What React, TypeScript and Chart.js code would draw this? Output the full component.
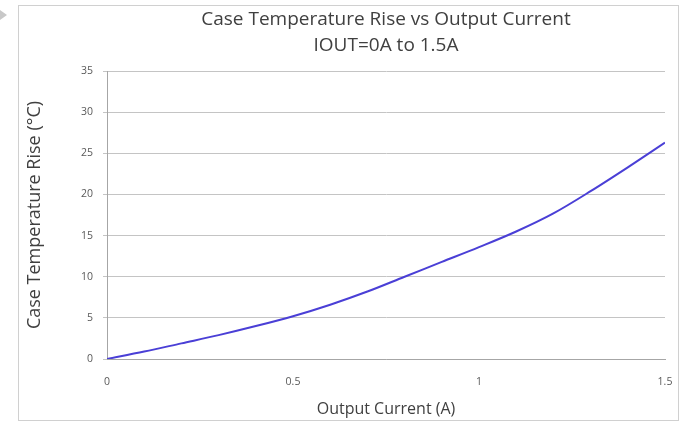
import React, { useEffect, useRef } from "react";
import { Chart, registerables } from "chart.js";

Chart.register(...registerables);

const currentA: number[] = [0, 0.1, 0.2, 0.3, 0.4, 0.5, 0.6, 0.7, 0.8, 0.9, 1.0, 1.1, 1.2, 1.3, 1.4, 1.5];
const tempRise: number[] = [0, 0.9, 1.9, 2.9, 4.0, 5.2, 6.6, 8.2, 10.0, 11.8, 13.6, 15.5, 17.7, 20.4, 23.3, 26.3];
const titleLines: string[] = ["Case Temperature Rise vs Output Current", "IOUT=0A to 1.5A"];
const xTitle = "Output Current (A)";
const yTitle = "Case Temperature Rise (°C)";

const FONT = "'Open Sans', 'Noto Sans', sans-serif";

export default function App() {
  const ref = useRef<HTMLCanvasElement | null>(null);
  useEffect(() => {
    if (!ref.current) return;
    const chart = new Chart(ref.current, {
      type: "line",
      data: {
        datasets: [
          {
            data: currentA.map((x, i) => ({ x, y: tempRise[i] })),
            borderColor: "#4a3fd6",
            borderWidth: 2,
            pointRadius: 0,
            cubicInterpolationMode: "monotone",
            fill: false,
          },
        ],
      },
      options: {
        animation: false,
        responsive: true,
        maintainAspectRatio: false,
        layout: { padding: { top: 5, left: 18, right: 21, bottom: 4 } },
        plugins: {
          legend: { display: false },
          tooltip: { enabled: false },
          title: {
            display: true,
            fullSize: false,
            text: titleLines,
            color: "#404040",
            font: { family: FONT, size: 19, weight: "normal", lineHeight: 1.37 },
            padding: { top: 2, bottom: 12 },
          },
        },
        scales: {
          x: {
            type: "linear",
            min: 0,
            max: 1.5,
            ticks: {
              stepSize: 0.5,
              color: "#595959",
              font: { family: FONT, size: 10.5 },
              padding: 9,
              callback: (v: any) => String(v),
            },
            grid: { display: false },
            border: { display: true, color: "#a6a6a6" },
            title: {
              display: true,
              text: xTitle,
              color: "#404040",
              font: { family: FONT, size: 16 },
              padding: { top: 4, bottom: 0 },
            },
            afterFit: (s: any) => {
              s.height = 60;
            },
          },
          y: {
            min: 0,
            max: 35,
            ticks: {
              stepSize: 5,
              color: "#595959",
              font: { family: FONT, size: 10.5 },
              padding: 10,
            },
            grid: { color: "#c4c4c4", tickLength: 4 },
            border: { display: true, color: "#a6a6a6" },
            title: {
              display: true,
              text: yTitle,
              color: "#404040",
              font: { family: FONT, size: 18 },
              padding: { top: 6, bottom: 4 },
            },
            afterFit: (s: any) => {
              s.width = 89;
            },
          },
        },
      },
    });
    return () => chart.destroy();
  }, []);
  return (
    <div style={{ position: "fixed", left: 0, top: 0, width: 686, height: 423, background: "#fff" }}>
      <div
        style={{
          position: "absolute",
          left: 0,
          top: 10,
          width: 0,
          height: 0,
          borderTop: "5px solid transparent",
          borderBottom: "5px solid transparent",
          borderLeft: "7px solid #c8c8c8",
        }}
      />
      <div
        style={{
          position: "absolute",
          left: 18,
          top: 5,
          width: 659,
          height: 414,
          border: "1px solid #d0d0d0",
        }}
      />
      <div style={{ position: "absolute", left: 0, top: 0, width: 686, height: 423 }}>
        <canvas ref={ref} />
      </div>
    </div>
  );
}
